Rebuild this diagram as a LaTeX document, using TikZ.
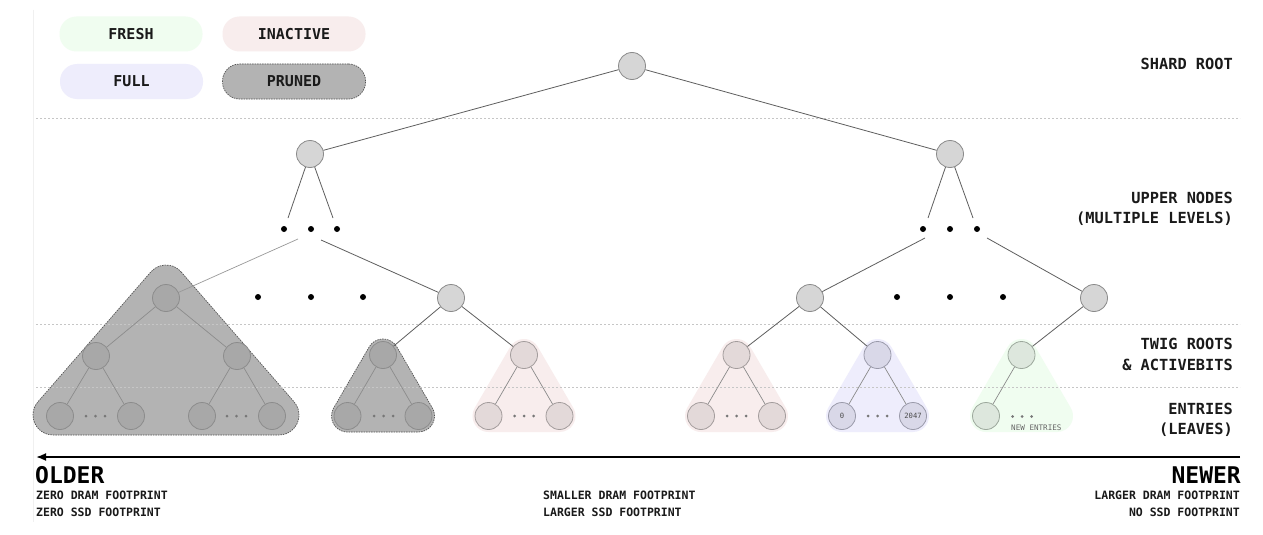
\documentclass[tikz,border=0pt]{standalone}
\usepackage{fontspec}
\newfontfamily\mono{DejaVu Sans Mono}
\usetikzlibrary{arrows.meta}
\definecolor{nodefill}{HTML}{D6D6D6}
\definecolor{nodedraw}{HTML}{8A8A8A}
\definecolor{prunedbg}{HTML}{B3B3B3}
\definecolor{prunednode}{HTML}{A8A8A8}
\definecolor{prunedline}{HTML}{8C8C8C}
\definecolor{prunedborder}{HTML}{555555}
\definecolor{inactbg}{HTML}{F8EDED}
\definecolor{inactnode}{HTML}{E3D9D9}
\definecolor{inactline}{HTML}{A39C9C}
\definecolor{fullbg}{HTML}{EEEDFC}
\definecolor{fullnode}{HTML}{D9D8E8}
\definecolor{fullline}{HTML}{9A9AAA}
\definecolor{freshbg}{HTML}{F0FDF0}
\definecolor{freshnode}{HTML}{DDE7DD}
\definecolor{freshline}{HTML}{9CA89C}
\definecolor{sepclr}{HTML}{C6C6C6}
\definecolor{edgeclr}{HTML}{5E5E5E}
\definecolor{twigedge}{HTML}{8A8A8A}
\definecolor{dotgray}{HTML}{777777}
\definecolor{textclr}{HTML}{1A1A1A}
% hull of three circles (radius 16) around a twig's root and leaves
\newcommand\twigbg[3]{%
  \path[fill=#2,#3] (#1+13.83,346.95) -- (#1+49.33,407.95)
    arc[start angle=-30.2,end angle=90,radius=16] -- (#1-35.5,432)
    arc[start angle=90,end angle=210.2,radius=16] -- (#1-13.83,346.95)
    arc[start angle=210.2,end angle=329.8,radius=16] -- cycle;}
\begin{document}
\begin{tikzpicture}[x=1pt,y=-1pt,
  tn/.style={circle,minimum size=27pt,inner sep=0pt,line width=0.8pt},
  gnode/.style={tn,fill=nodefill,draw=nodedraw},
  pnode/.style={tn,fill=prunednode,draw=prunedline},
  inode/.style={tn,fill=inactnode,draw=inactline},
  fnode/.style={tn,fill=fullnode,draw=fullline,font=\mono\fontsize{7.2}{8}\selectfont,text=black!70},
  nnode/.style={tn,fill=freshnode,draw=freshline},
  bigdot/.style={circle,fill=black,inner sep=0pt,minimum size=6pt},
  smalldot/.style={circle,fill=dotgray,inner sep=0pt,minimum size=3pt},
  sep/.style={draw=sepclr,line width=0.8pt,dash pattern=on 2pt off 2pt},
  upedge/.style={draw=edgeclr,line width=0.8pt},
  faintedge/.style={draw=black!40,line width=0.7pt},
  twedge/.style={draw=twigedge,line width=0.7pt},
  pedge/.style={draw=black!45,line width=0.7pt},
  lbl/.style={font=\mono\bfseries\fontsize{15.3}{18}\selectfont,inner sep=0pt,text=textclr},
  smalltxt/.style={font=\mono\bfseries\fontsize{11.5}{14}\selectfont,inner sep=0pt,text=textclr},
  bigtxt/.style={font=\mono\bfseries\fontsize{23}{26}\selectfont,inner sep=0pt,text=black},
  pill/.style={rounded corners=17pt,minimum width=143pt,minimum height=35pt,inner sep=0pt,font=\mono\bfseries\fontsize{15}{18}\selectfont,text=textclr},
  dashborder/.style={draw=prunedborder,dash pattern=on 1.5pt off 1pt,line width=0.7pt},
]
\useasboundingbox[fill=white] (0,0) rectangle (1263,535);
\draw[draw=black!6] (33,10) -- (33,522);

% legend
\node[pill,fill=freshbg] (lgfresh) at (131,34) {FRESH};
\node[pill,fill=inactbg] (lginact) at (294,34) {INACTIVE};
\node[pill,fill=fullbg] (lgfull) at (131.5,81.5) {FULL};
\node[pill,fill=prunedbg,dashborder] (lgpruned) at (294,81.5) {PRUNED};

% big pruned subtree background (hull of three circles, radius 20)
\path[fill=prunedbg,dashborder] (181.09,271.88) -- (294.09,401.88)
  arc[start angle=-41,end angle=90,radius=20] -- (53,435)
  arc[start angle=90,end angle=221,radius=20] -- (150.91,271.88)
  arc[start angle=221,end angle=319,radius=20] -- cycle;
\twigbg{383}{prunedbg}{dashborder}
\twigbg{524}{inactbg}{}
\twigbg{736.5}{inactbg}{}
\twigbg{877.5}{fullbg}{}
\twigbg{1021.5}{freshbg}{}

% separators
\coordinate (s1a) at (36,118); \coordinate (s1b) at (1240,118);
\coordinate (s2a) at (36,324); \coordinate (s2b) at (1240,324);
\coordinate (s3a) at (36,387); \coordinate (s3b) at (1240,387);
\draw[sep] (s1a) -- (s1b);
\draw[sep] (s2a) -- (s2b);
\draw[sep] (s3a) -- (s3b);

% upper nodes
\node[gnode] (root) at (632,66) {};
\node[gnode] (ul) at (310,154) {};
\node[gnode] (ur) at (950,154) {};
\node[bigdot] (da1) at (284,229) {};
\node[bigdot] (da2) at (311,229) {};
\node[bigdot] (da3) at (337,229) {};
\node[bigdot] (db1) at (923,229) {};
\node[bigdot] (db2) at (950,229) {};
\node[bigdot] (db3) at (977,229) {};
\node[bigdot] (dc1) at (258,297) {};
\node[bigdot] (dc2) at (311,297) {};
\node[bigdot] (dc3) at (363,297) {};
\node[bigdot] (dd1) at (897,297) {};
\node[bigdot] (dd2) at (950,297) {};
\node[bigdot] (dd3) at (1003,297) {};
\node[pnode] (pr) at (166,298) {};
\node[gnode] (m1) at (451,298) {};
\node[gnode] (m2) at (810,298) {};
\node[gnode] (m3) at (1094,298) {};

\coordinate (L1a) at (288,218); \coordinate (L1b) at (333,218);
\coordinate (R1a) at (928,218); \coordinate (R1b) at (973,218);
\coordinate (L2a) at (298,239); \coordinate (L2b) at (321,240);
\coordinate (R2a) at (925,238); \coordinate (R2b) at (987,238);

\draw[upedge] (root) -- (ul);
\draw[upedge] (root) -- (ur);
\draw[upedge] (ul) -- (L1a);
\draw[upedge] (ul) -- (L1b);
\draw[upedge] (ur) -- (R1a);
\draw[upedge] (ur) -- (R1b);
\draw[faintedge] (L2a) -- (pr);
\draw[upedge] (L2b) -- (m1);
\draw[upedge] (R2a) -- (m2);
\draw[upedge] (R2b) -- (m3);

% big pruned subtree
\node[pnode] (pa) at (96,356) {};
\node[pnode] (pb) at (237,356) {};
\node[pnode] (pa1) at (60,416) {};
\node[pnode] (pa2) at (131,416) {};
\node[pnode] (pb1) at (202,416) {};
\node[pnode] (pb2) at (272,416) {};
\node[smalldot] (pad1) at (86,416) {};
\node[smalldot] (pad2) at (95.5,416) {};
\node[smalldot] (pad3) at (105,416) {};
\node[smalldot] (pbd1) at (227,416) {};
\node[smalldot] (pbd2) at (236.5,416) {};
\node[smalldot] (pbd3) at (246,416) {};
\draw[pedge] (pr) -- (pa);
\draw[pedge] (pr) -- (pb);
\draw[pedge] (pa) -- (pa1);
\draw[pedge] (pa) -- (pa2);
\draw[pedge] (pb) -- (pb1);
\draw[pedge] (pb) -- (pb2);

% twig 1 pruned
\node[pnode] (t1r) at (383,355) {};
\node[pnode] (t1a) at (347.5,416) {};
\node[pnode] (t1b) at (418.5,416) {};
\node[smalldot] (t1d1) at (374,416) {};
\node[smalldot] (t1d2) at (383.5,416) {};
\node[smalldot] (t1d3) at (393,416) {};
\draw[pedge] (t1r) -- (t1a);
\draw[pedge] (t1r) -- (t1b);

% twig 2 inactive
\node[inode] (t2r) at (524,355) {};
\node[inode] (t2a) at (488.5,416) {};
\node[inode] (t2b) at (559.5,416) {};
\node[smalldot] (t2d1) at (514.5,416) {};
\node[smalldot] (t2d2) at (524,416) {};
\node[smalldot] (t2d3) at (533.5,416) {};
\draw[twedge] (t2r) -- (t2a);
\draw[twedge] (t2r) -- (t2b);

% twig 3 inactive
\node[inode] (t3r) at (736.5,355) {};
\node[inode] (t3a) at (701,416) {};
\node[inode] (t3b) at (772,416) {};
\node[smalldot] (t3d1) at (727,416) {};
\node[smalldot] (t3d2) at (736.5,416) {};
\node[smalldot] (t3d3) at (746,416) {};
\draw[twedge] (t3r) -- (t3a);
\draw[twedge] (t3r) -- (t3b);

% twig 4 full
\node[fnode] (t4r) at (877.5,355) {};
\node[fnode] (t4a) at (842,416) {0};
\node[fnode] (t4b) at (913,416) {2047};
\node[smalldot] (t4d1) at (868,416) {};
\node[smalldot] (t4d2) at (877.5,416) {};
\node[smalldot] (t4d3) at (887,416) {};
\draw[twedge] (t4r) -- (t4a);
\draw[twedge] (t4r) -- (t4b);

% twig 5 fresh
\node[nnode] (t5r) at (1021.5,355) {};
\node[nnode] (t5a) at (986,416) {};
\node[smalldot] (t5d1) at (1012.5,416.5) {};
\node[smalldot] (t5d2) at (1022,416.5) {};
\node[smalldot] (t5d3) at (1031.5,416.5) {};
\node[anchor=base west,inner sep=0pt,font=\mono\fontsize{7.6}{9}\selectfont,text=black!60] (newent) at (1011,430) {NEW ENTRIES};
\draw[twedge] (t5r) -- (t5a);

% connectors to twigs
\draw[upedge] (m1) -- (t1r);
\draw[upedge] (m1) -- (t2r);
\draw[upedge] (m2) -- (t3r);
\draw[upedge] (m2) -- (t4r);
\draw[upedge] (m3) -- (t5r);

% right labels
\node[lbl,anchor=base east] (lb1) at (1233,70) {SHARD ROOT};
\node[lbl,anchor=base east] (lb2) at (1233,203) {UPPER NODES};
\node[lbl,anchor=base east] (lb3) at (1233,223.5) {(MULTIPLE LEVELS)};
\node[lbl,anchor=base east] (lb4) at (1233,349.5) {TWIG ROOTS};
\node[lbl,anchor=base east] (lb5) at (1233,370) {\& ACTIVEBITS};
\node[lbl,anchor=base east] (lb6) at (1233,414) {ENTRIES};
\node[lbl,anchor=base east] (lb7) at (1233,434.5) {(LEAVES)};

% arrow
\coordinate (arR) at (1240,457);
\coordinate (arL) at (36,457);
\draw[line width=1.8pt,-{Latex[length=10pt,width=8pt]}] (arR) -- (arL);

% bottom texts
\node[bigtxt,anchor=base west] (older) at (35,483.5) {OLDER};
\node[smalltxt,anchor=base west] (o1) at (36,499) {ZERO DRAM FOOTPRINT};
\node[smalltxt,anchor=base west] (o2) at (36,516) {ZERO SSD FOOTPRINT};
\node[smalltxt,anchor=base west] (c1) at (543,499) {SMALLER DRAM FOOTPRINT};
\node[smalltxt,anchor=base west] (c2) at (543,516) {LARGER SSD FOOTPRINT};
\node[bigtxt,anchor=base east] (newer) at (1241,483.5) {NEWER};
\node[smalltxt,anchor=base east] (n1) at (1240,499) {LARGER DRAM FOOTPRINT};
\node[smalltxt,anchor=base east] (n2) at (1240,516) {NO SSD FOOTPRINT};
\end{tikzpicture}
\end{document}
